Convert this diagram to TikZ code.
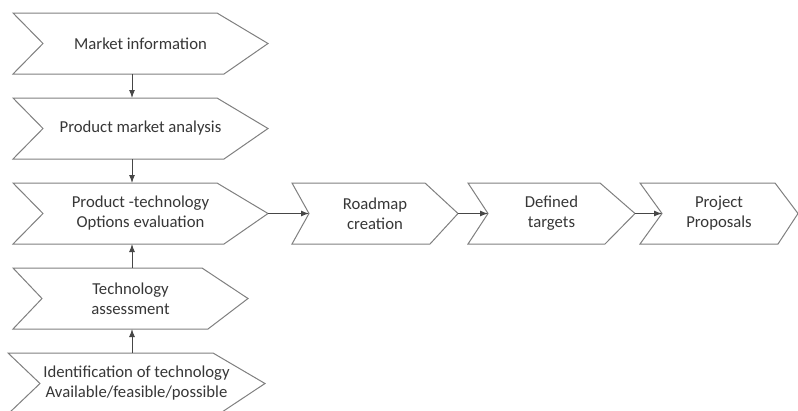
\documentclass[tikz,border=0pt]{standalone}
\usepackage{fontspec}
\setmainfont{Carlito}
\usetikzlibrary{arrows.meta}
\definecolor{outline}{RGB}{128,128,128}
\definecolor{linkcol}{RGB}{70,70,70}
\definecolor{txtcol}{RGB}{55,55,55}
\tikzset{
  stepline/.style={draw=outline, line width=1pt, fill=white, line join=miter},
  steptext/.style={text=txtcol, align=center, inner sep=0pt,
    font=\fontsize{16.7}{20}\selectfont},
  link/.style={draw=linkcol, line width=1pt,
    -{Latex[length=8pt,width=6pt]}},
}
% #1 name, #2 left x, #3 notch x, #4 top-right x, #5 bottom-right x,
% #6 tip x, #7 top y, #8 bottom y, #9 label
\newcommand\chevstep[9]{%
  \draw[stepline] (#2,#7) -- (#4,#7) -- (#6,{(#7+#8)/2}) -- (#5,#8)
    -- (#2,#8) -- (#3,{(#7+#8)/2}) -- cycle;
  \coordinate (#1-in)  at (#3,{(#7+#8)/2});
  \coordinate (#1-out) at (#6,{(#7+#8)/2});
  \coordinate (#1-top) at (132,#7);
  \coordinate (#1-bot) at (132,#8);
  \node[steptext] (#1) at ({(#2+#6)/2},{(#7+#8)/2}) {#9};
}
\begin{document}
\begin{tikzpicture}[x=1pt,y=-1pt]
  \fill[white] (0,0) rectangle (798,410);
  \useasboundingbox (0,0) rectangle (798,410);

  % left column
  \chevstep{market}{13}{43}{217}{224}{268}{13}{74}{Market information}
  \chevstep{analysis}{13}{43}{217}{224}{268}{98}{159}{Product market analysis}
  \chevstep{options}{13}{43}{217}{224}{268}{183}{244}{Product -technology\\Options evaluation}
  \chevstep{assess}{13}{42}{202}{208}{248}{268}{329}{Technology\\assessment}
  \chevstep{ident}{8}{40}{213}{219}{265}{353}{414}{Identification of technology\\Available/feasible/possible}

  % right row
  \chevstep{roadmap}{292}{309}{425}{430}{458}{183}{244}{Roadmap\\creation}
  \chevstep{targets}{468}{488}{600}{605}{635}{183}{244}{Defined\\targets}
  \chevstep{proposals}{640}{662}{775}{778}{798}{183}{244}{Project\\Proposals}

  % connectors
  \draw[link] (market-bot) -- (analysis-top);
  \draw[link] (analysis-bot) -- (options-top);
  \draw[link] (assess-top) -- (options-bot);
  \draw[link] (ident-top) -- (assess-bot);
  \draw[link] (options-out) -- (roadmap-in);
  \draw[link] (roadmap-out) -- (targets-in);
  \draw[link] (targets-out) -- (proposals-in);
\end{tikzpicture}
\end{document}
